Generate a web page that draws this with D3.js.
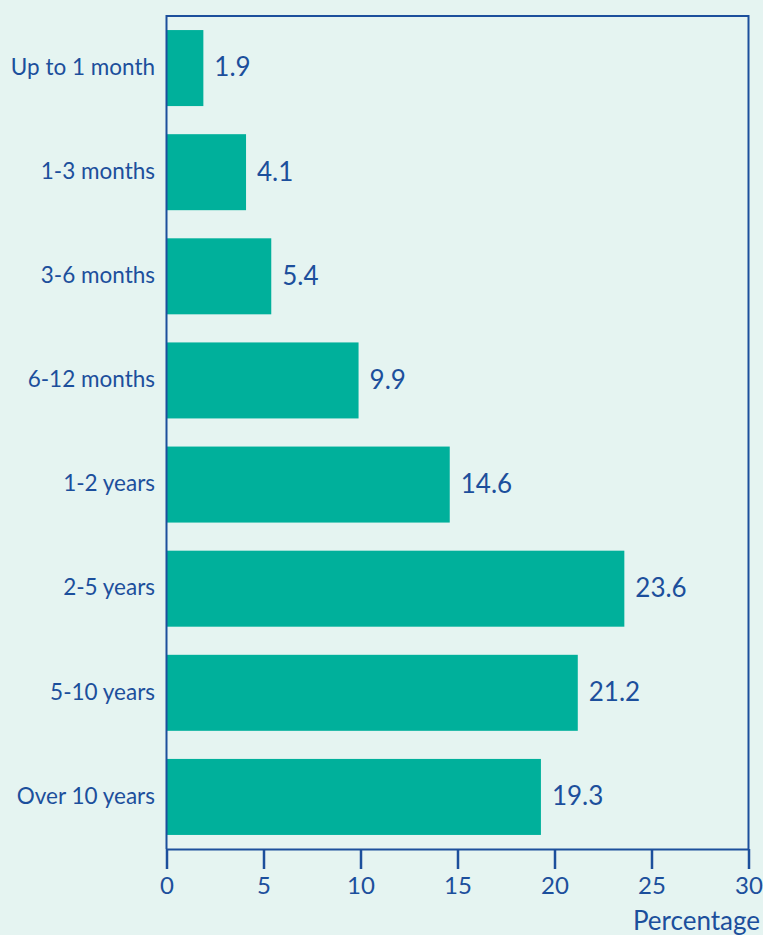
<!DOCTYPE html>
<html><head><meta charset="utf-8">
<script src="https://cdn.jsdelivr.net/npm/d3@7"></script>
<style>html,body{margin:0;padding:0;background:#e5f4f1;}svg{display:block;}</style>
</head><body>
<svg id="c" width="763" height="935"></svg>
<script>
const categories = ["Up to 1 month","1-3 months","3-6 months","6-12 months","1-2 years","2-5 years","5-10 years","Over 10 years"];
const values = [1.9,4.1,5.4,9.9,14.6,23.6,21.2,19.3];
const tickValues = [0,5,10,15,20,25,30];
const axisTitle = "Percentage";

(function(){
const blue = "#1c4f9c", green = "#00b09b", font = "Lato, 'Open Sans', sans-serif";
const svg = d3.select("#c");
svg.append("rect").attr("width",763).attr("height",935).attr("fill","#e5f4f1");
const mL = 166.5, mR = 748.5, mT = 16, mB = 849;
const x = d3.scaleLinear().domain([0,30]).range([mL,mR]);
const y = d3.scaleBand().domain(categories).range([mT,mB]).paddingInner(0.27).paddingOuter(0.135);

svg.selectAll("rect.bar").data(values).enter().append("rect").attr("class","bar")
  .attr("x",x(0)).attr("y",(d,i)=>y(categories[i])).attr("width",d=>x(d)-x(0)).attr("height",y.bandwidth())
  .attr("fill",green);

svg.append("path").attr("d",`M${mL},${mB}V${mT}H${mR}V${mB}`).attr("fill","none").attr("stroke",blue).attr("stroke-width",2);

const xa = svg.append("g").attr("transform",`translate(0,${mB})`)
  .call(d3.axisBottom(x).tickValues(tickValues).tickSize(20).tickPadding(8).tickSizeOuter(0));
xa.select(".domain").attr("stroke",blue).attr("stroke-width",2);
xa.selectAll(".tick line").attr("stroke",blue).attr("stroke-width",2.5);
xa.selectAll(".tick text").attr("fill",blue).attr("font-family",font).attr("font-size",24);

svg.selectAll("text.cat").data(categories).enter().append("text").attr("class","cat")
  .attr("x",155).attr("y",d=>y(d)+y.bandwidth()/2).attr("dy","0.3em").attr("text-anchor","end")
  .attr("fill",blue).attr("font-family",font).attr("font-size",22.5).text(d=>d);

svg.selectAll("text.val").data(values).enter().append("text").attr("class","val")
  .attr("x",d=>x(d)+11).attr("y",(d,i)=>y(categories[i])+y.bandwidth()/2).attr("dy","0.32em")
  .attr("fill",blue).attr("font-family",font).attr("font-size",26).text(d=>d.toFixed(1));

svg.append("text").attr("x",760).attr("y",930).attr("text-anchor","end")
  .attr("fill",blue).attr("font-family",font).attr("font-size",26).text(axisTitle);
})();
</script>
</body></html>
